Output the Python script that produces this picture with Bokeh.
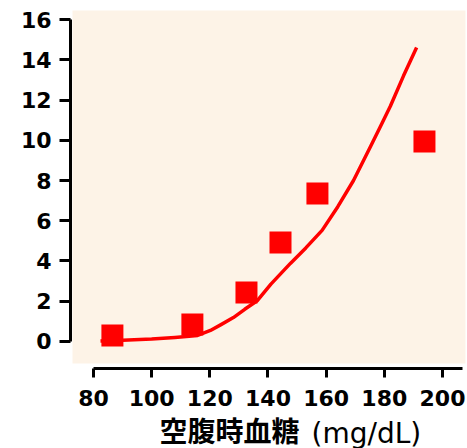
from bokeh.plotting import figure
from bokeh.models import FixedTicker, BoxAnnotation, Range1d, Title
from bokeh.embed import file_html
from bokeh.resources import INLINE

# data
glucose = [86.5, 114.0, 132.6, 144.3, 157.0, 193.8]
observed = [0.30, 0.84, 2.43, 4.92, 7.35, 9.94]

curve_x = [82.4, 90, 100, 108, 115.8, 120.2, 124, 128.1, 132, 136.4, 141, 147.7, 153, 158.6, 164, 169.4, 175.3, 178.7, 182.1, 186.6, 191.1]
curve_y = [0.03, 0.06, 0.12, 0.20, 0.30, 0.55, 0.85, 1.19, 1.60, 2.04, 2.85, 3.88, 4.65, 5.52, 6.70, 8.00, 9.70, 10.70, 11.70, 13.20, 14.61]

x_ticks = [80, 100, 120, 140, 160, 180, 200]
y_ticks = [0, 2, 4, 6, 8, 10, 12, 14, 16]

x_title_main = "空腹時血糖"
x_title_unit = "(mg/dL)"

CREAM = "#FDF3E7"
RED = "#FF0000"

p = figure(width=467, height=448, output_backend="svg", toolbar_location=None,
           x_range=Range1d(72.09, 208.6), y_range=Range1d(-1.342, 16.547),
           min_border_left=70, min_border_right=0, min_border_top=8, min_border_bottom=80)

p.background_fill_color = "white"
p.border_fill_color = "white"
p.outline_line_color = None
p.xgrid.visible = False
p.ygrid.visible = False

p.add_layout(BoxAnnotation(left=72.78, right=207.9, bottom=-1.09, top=16.45,
                           fill_color=CREAM, fill_alpha=1.0, line_color=None, level="underlay"))

p.line(curve_x, curve_y, line_color=RED, line_width=3.5, line_join="round")
p.scatter(glucose, observed, marker="square", size=22, fill_color=RED, line_color=None)

for ax in (p.xaxis[0], p.yaxis[0]):
    ax.axis_line_width = 3
    ax.axis_line_color = "black"
    ax.major_tick_line_width = 3
    ax.major_tick_line_color = "black"
    ax.major_tick_in = 0
    ax.minor_tick_line_color = None
    ax.major_label_text_font = "DejaVu Sans"
    ax.major_label_text_font_style = "bold"
    ax.major_label_text_font_size = "22px"
    ax.major_label_text_color = "black"

p.xaxis.ticker = FixedTicker(ticks=x_ticks)
p.yaxis.ticker = FixedTicker(ticks=y_ticks)
p.xaxis.bounds = (80, 207)
p.yaxis.bounds = (0, 16)
p.yaxis.major_tick_out = 11
p.xaxis.major_tick_out = 9
p.yaxis.major_label_standoff = 8
p.xaxis.major_label_standoff = 12

# two zero-height title panels (negative standoff) placed on one line under the axis
p.add_layout(Title(text=x_title_main, align="left", offset=89, standoff=-82,
                   vertical_align="bottom",
                   text_font="Noto Sans CJK JP", text_font_style="bold",
                   text_font_size="28px", text_color="black"), "below")
p.add_layout(Title(text=x_title_unit, align="left", offset=241, standoff=-82,
                   vertical_align="bottom",
                   text_font="DejaVu Sans", text_font_style="normal",
                   text_font_size="28px", text_color="black"), "below")

open("out.html", "w").write(file_html(p, INLINE))
